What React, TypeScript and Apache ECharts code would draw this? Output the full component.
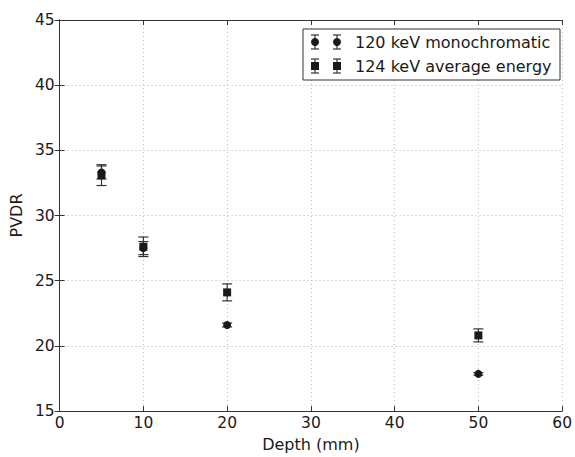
import React, { useEffect, useRef } from "react";
import * as echarts from "echarts";

const depths = [5, 10, 20, 50];
const monoValues = [33.3, 27.5, 21.6, 17.85];
const monoErrors = [0.5, 0.5, 0.15, 0.1];
const avgValues = [33.1, 27.6, 24.1, 20.8];
const avgErrors = [0.8, 0.75, 0.65, 0.5];
const legendLabels = ["120 keV monochromatic", "124 keV average energy"];

const FONT = "DejaVu Sans";
const INK = "#1a1a1a";

function errorBarSeries(values: number[], errors: number[]) {
  return {
    type: "custom",
    silent: true,
    data: depths.map((d, i) => [d, values[i] - errors[i], values[i] + errors[i]]),
    renderItem: (params: any, api: any) => {
      const x = api.value(0);
      const lo = api.coord([x, api.value(1)]);
      const hi = api.coord([x, api.value(2)]);
      const cap = 5;
      const style = { stroke: "#333", lineWidth: 1.2 };
      return {
        type: "group",
        children: [
          { type: "line", shape: { x1: lo[0], y1: lo[1], x2: hi[0], y2: hi[1] }, style },
          { type: "line", shape: { x1: lo[0] - cap, y1: lo[1], x2: lo[0] + cap, y2: lo[1] }, style },
          { type: "line", shape: { x1: hi[0] - cap, y1: hi[1], x2: hi[0] + cap, y2: hi[1] }, style },
        ],
      };
    },
    z: 3,
  };
}

function legendItem(y: number, kind: "circle" | "rect", label: string) {
  const xs = [315, 337];
  const children: any[] = [];
  const z = 20;
  xs.forEach((x) => {
    const s = { stroke: "#333", lineWidth: 1.2 };
    children.push({ type: "line", z, shape: { x1: x, y1: y - 7, x2: x, y2: y + 7 }, style: s });
    children.push({ type: "line", z, shape: { x1: x - 4, y1: y - 7, x2: x + 4, y2: y - 7 }, style: s });
    children.push({ type: "line", z, shape: { x1: x - 4, y1: y + 7, x2: x + 4, y2: y + 7 }, style: s });
    if (kind === "circle") {
      children.push({ type: "circle", z: z + 1, shape: { cx: x, cy: y, r: 4 }, style: { fill: INK } });
    } else {
      children.push({ type: "rect", z: z + 1, shape: { x: x - 4, y: y - 4, width: 8, height: 8 }, style: { fill: INK } });
    }
  });
  children.push({
    type: "text",
    z,
    x: 355,
    y: y,
    style: { text: label, font: `16px "${FONT}"`, fill: INK, verticalAlign: "middle", align: "left" },
  });
  return children;
}

export default function App() {
  const ref = useRef<HTMLDivElement>(null);
  useEffect(() => {
    if (!ref.current) return;
    const chart = echarts.init(ref.current, undefined, { renderer: "svg" });
    const axisLine = { show: true, lineStyle: { color: "#333", width: 1 } };
    const tick = { show: true, inside: true, length: 5, lineStyle: { color: "#333" } };
    const grid = { show: true, lineStyle: { color: "#bbb", type: [1, 3] as any, width: 1 } };
    chart.setOption({
      animation: false,
      backgroundColor: "#fff",
      grid: { left: 55, right: 5, top: 20, bottom: 43, containLabel: false },
      xAxis: [
        {
          type: "value",
          min: 0,
          max: 60,
          interval: 10,
          name: "Depth (mm)",
          nameLocation: "middle",
          nameGap: 25,
          nameTextStyle: { fontFamily: FONT, fontSize: 16, color: INK },
          axisLine,
          axisTick: tick,
          splitLine: grid,
          axisLabel: { fontFamily: FONT, fontSize: 15.5, color: INK, margin: 4 },
        },
        {
          type: "value",
          position: "top",
          min: 0,
          max: 60,
          interval: 10,
          axisLine,
          axisTick: tick,
          splitLine: { show: false },
          axisLabel: { show: false },
        },
      ],
      yAxis: [
        {
          type: "value",
          min: 15,
          max: 45,
          interval: 5,
          name: "PVDR",
          nameLocation: "middle",
          nameGap: 32,
          nameTextStyle: { fontFamily: FONT, fontSize: 16, color: INK },
          axisLine,
          axisTick: tick,
          splitLine: grid,
          axisLabel: { fontFamily: FONT, fontSize: 15.5, color: INK, margin: 5 },
        },
        {
          type: "value",
          position: "right",
          min: 15,
          max: 45,
          interval: 5,
          axisLine,
          axisTick: tick,
          splitLine: { show: false },
          axisLabel: { show: false },
        },
      ],
      series: [
        errorBarSeries(monoValues, monoErrors),
        errorBarSeries(avgValues, avgErrors),
        {
          type: "scatter",
          name: legendLabels[0],
          symbol: "circle",
          symbolSize: 8,
          itemStyle: { color: INK, opacity: 1 },
          data: depths.map((d, i) => [d, monoValues[i]]),
          z: 4,
        },
        {
          type: "scatter",
          name: legendLabels[1],
          symbol: "rect",
          symbolSize: 8,
          itemStyle: { color: INK, opacity: 1 },
          data: depths.map((d, i) => [d, avgValues[i]]),
          z: 4,
        },
      ],
      graphic: [
        {
          type: "rect",
          z: 10,
          shape: { x: 303, y: 29, width: 257, height: 51 },
          style: { fill: "#fff", stroke: "#333", lineWidth: 1 },
        },
        ...legendItem(42, "circle", legendLabels[0]),
        ...legendItem(66, "rect", legendLabels[1]),
      ],
    });
    return () => chart.dispose();
  }, []);
  return <div ref={ref} style={{ width: 575, height: 457, position: "absolute", left: 0, top: 0 }} />;
}
